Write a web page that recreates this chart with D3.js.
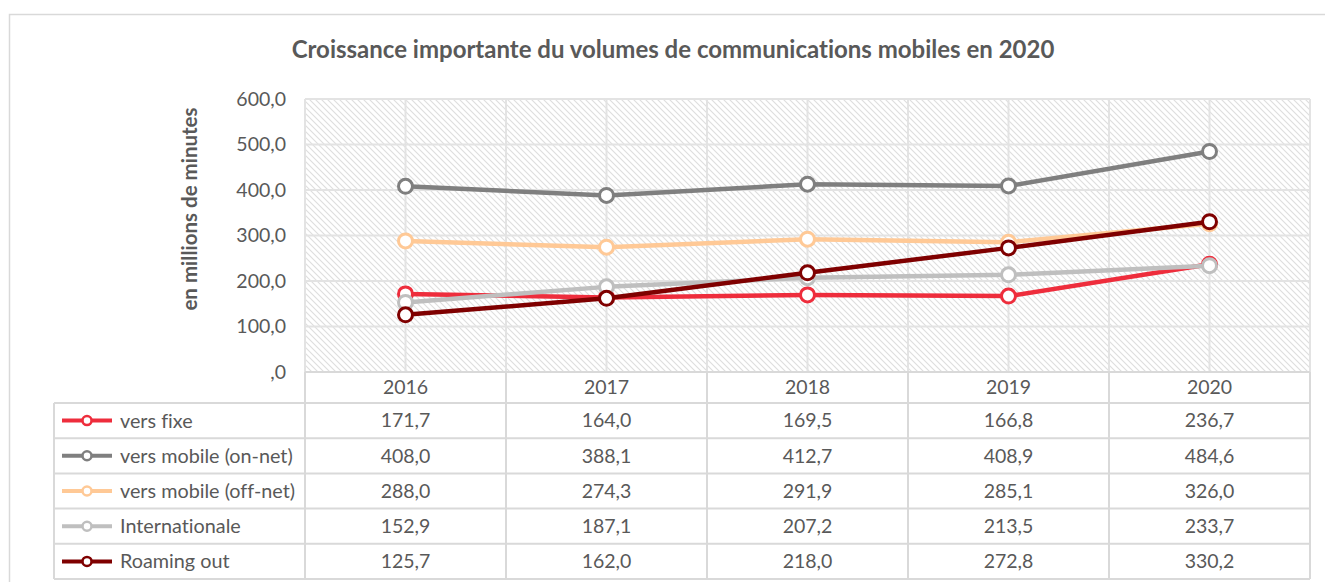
<!DOCTYPE html>
<html>
<head>
<meta charset="utf-8">
<script src="https://cdn.jsdelivr.net/npm/d3@7"></script>
<style>
  html, body { margin: 0; padding: 0; background: #fff; }
  svg { display: block; font-family: Lato, "Open Sans", sans-serif; font-variant-ligatures: none; }
</style>
</head>
<body>
<svg id="chart" width="1325" height="582"></svg>
<script>
// Volumes de communications mobiles, en millions de minutes
const years = ["2016", "2017", "2018", "2019", "2020"];
const seriesNames = ["vers fixe", "vers mobile (on-net)", "vers mobile (off-net)", "Internationale", "Roaming out"];
const versFixe = [171.7, 164.0, 169.5, 166.8, 236.7];
const versMobileOnNet = [408.0, 388.1, 412.7, 408.9, 484.6];
const versMobileOffNet = [288.0, 274.3, 291.9, 285.1, 326.0];
const internationale = [152.9, 187.1, 207.2, 213.5, 233.7];
const roamingOut = [125.7, 162.0, 218.0, 272.8, 330.2];
const seriesColors = ["#ee2d3c", "#7f7f7f", "#ffc996", "#bfbfbf", "#7f0000"];
const yTicks = [0, 100, 200, 300, 400, 500, 600];
const yTickLabels = [",0", "100,0", "200,0", "300,0", "400,0", "500,0", "600,0"];
const title = "Croissance importante du volumes de communications mobiles en 2020";
const yTitle = "en millions de minutes";

const seriesValues = [versFixe, versMobileOnNet, versMobileOffNet, internationale, roamingOut];
const series = seriesNames.map((name, i) => ({ name, color: seriesColors[i], values: seriesValues[i] }));

const fmt = v => d3.format(".1f")(v).replace(".", ",");
const textColor = "#595959";
const gridColor = "#d9d9d9";

const svg = d3.select("#chart");

// Plot geometry
const plot = { left: 305, right: 1310, top: 99, bottom: 372 };
const tableLeft = 54;
const headerBottom = 403;
const rowH = 35.2;

const x = d3.scaleBand().domain(years).range([plot.left, plot.right]);
const xc = d => x(d) + x.bandwidth() / 2;
const y = d3.scaleLinear().domain([0, 600]).range([plot.bottom, plot.top]);

// Outer chart frame
svg.append("rect")
  .attr("x", 9.5).attr("y", 14.5)
  .attr("width", 1400).attr("height", 700)
  .attr("fill", "#fff").attr("stroke", gridColor).attr("stroke-width", 1.5);

// Hatch pattern for the plot area
const defs = svg.append("defs");
const pat = defs.append("pattern")
  .attr("id", "hatch").attr("patternUnits", "userSpaceOnUse")
  .attr("width", 6).attr("height", 6);
pat.append("rect").attr("width", 6).attr("height", 6).attr("fill", "#fff");
pat.append("path")
  .attr("d", "M-1,-1 L7,7 M-1,5 L1,7 M5,-1 L7,1")
  .attr("stroke", "#dedede").attr("stroke-width", 1.1);

svg.append("rect")
  .attr("x", plot.left).attr("y", plot.top)
  .attr("width", plot.right - plot.left).attr("height", plot.bottom - plot.top)
  .attr("fill", "url(#hatch)");

// Gridlines
const grid = svg.append("g").attr("stroke", "#e3e3e3").attr("stroke-width", 2);
grid.selectAll("line.h").data(yTicks).join("line")
  .attr("x1", plot.left).attr("x2", plot.right)
  .attr("y1", d => y(d)).attr("y2", d => y(d));
const vPos = years.map(d => x(d)).concat([plot.right]).concat(years.map(xc));
grid.selectAll("line.v").data(vPos).join("line")
  .attr("y1", plot.top).attr("y2", plot.bottom)
  .attr("x1", d => d).attr("x2", d => d);

// Y axis labels
const yAxis = d3.axisLeft(y).tickValues(yTicks)
  .tickFormat((d, i) => yTickLabels[i]).tickSize(0).tickPadding(0);
const ya = svg.append("g").attr("transform", `translate(${plot.left - 19},0)`).call(yAxis);
ya.select(".domain").remove();
ya.selectAll("text")
  .attr("fill", textColor).attr("font-size", 19.5)
  .attr("font-family", "Lato, sans-serif");

// Axis title
svg.append("text")
  .attr("transform", "translate(197,209) rotate(-90)")
  .attr("text-anchor", "middle")
  .attr("font-weight", "bold").attr("font-size", 20.5)
  .attr("fill", textColor)
  .text(yTitle);

// Chart title
svg.append("text")
  .attr("x", 673).attr("y", 58)
  .attr("text-anchor", "middle")
  .attr("font-weight", "bold").attr("font-size", 24)
  .attr("fill", textColor)
  .text(title);

// Data table
const table = svg.append("g").attr("stroke", gridColor).attr("stroke-width", 2).attr("fill", "none");
table.append("path")
  .attr("d", `M${plot.left},${plot.bottom} V${headerBottom} M${plot.left},${plot.bottom} H${plot.right}`);
years.forEach(d => {
  table.append("line").attr("x1", x(d) + x.bandwidth()).attr("x2", x(d) + x.bandwidth())
    .attr("y1", plot.bottom).attr("y2", headerBottom + rowH * series.length);
});
for (let r = 0; r <= series.length; r++) {
  const yy = headerBottom + r * rowH;
  table.append("line").attr("x1", tableLeft).attr("x2", plot.right)
    .attr("y1", yy).attr("y2", yy);
}
table.append("line").attr("x1", tableLeft).attr("x2", tableLeft)
  .attr("y1", headerBottom).attr("y2", headerBottom + rowH * series.length);
table.append("line").attr("x1", plot.left).attr("x2", plot.left)
  .attr("y1", plot.bottom).attr("y2", headerBottom + rowH * series.length);

// Header years
svg.append("g").selectAll("text").data(years).join("text")
  .attr("x", d => xc(d)).attr("y", (plot.bottom + headerBottom) / 2)
  .attr("dy", "0.35em").attr("text-anchor", "middle")
  .attr("font-size", 19.5).attr("fill", textColor)
  .text(d => d);

// Rows: legend keys + values
const rows = svg.append("g").selectAll("g").data(series).join("g")
  .attr("transform", (d, i) => `translate(0,${headerBottom + i * rowH + rowH / 2})`);
rows.append("line")
  .attr("x1", 62).attr("x2", 112).attr("y1", 0).attr("y2", 0)
  .attr("stroke", d => d.color).attr("stroke-width", 4);
rows.append("circle")
  .attr("cx", 87).attr("cy", 0).attr("r", 4.5)
  .attr("fill", "#fff").attr("stroke", d => d.color).attr("stroke-width", 2.5);
rows.append("text")
  .attr("x", 120).attr("y", 0).attr("dy", "0.35em")
  .attr("font-size", 19.8).attr("fill", textColor)
  .text(d => d.name);
rows.selectAll("text.v").data(d => d.values.map((v, i) => ({ v, year: years[i] }))).join("text")
  .attr("x", d => xc(d.year)).attr("y", 0).attr("dy", "0.35em")
  .attr("text-anchor", "middle")
  .attr("font-size", 19.5).attr("fill", textColor)
  .text(d => fmt(d.v));

// Lines and markers
const line = d3.line().x((d, i) => xc(years[i])).y(d => y(d));
const sg = svg.append("g").selectAll("g").data(series).join("g");
sg.append("path")
  .attr("d", d => line(d.values))
  .attr("fill", "none").attr("stroke", d => d.color)
  .attr("stroke-width", 4.5).attr("stroke-linejoin", "round");
sg.selectAll("circle").data(d => d.values.map((v, i) => ({ v, i, color: d.color }))).join("circle")
  .attr("cx", d => xc(years[d.i])).attr("cy", d => y(d.v)).attr("r", 7)
  .attr("fill", "#fff").attr("stroke", d => d.color).attr("stroke-width", 3);
</script>
</body>
</html>
